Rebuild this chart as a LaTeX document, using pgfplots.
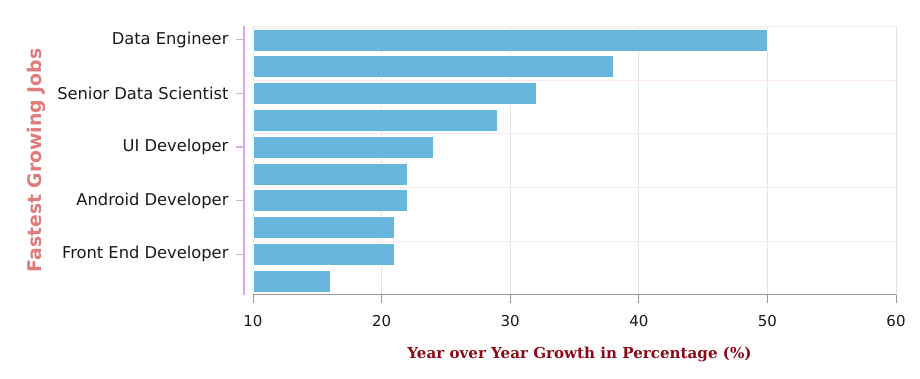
\documentclass[border=0pt]{standalone}
\usepackage{pgfplots}
\pgfplotsset{compat=1.18}
\usepackage{fontspec}
\setmainfont{DejaVu Sans}
\newfontfamily\serifb{DejaVu Serif}
\definecolor{barblue}{HTML}{67B7DC}
\definecolor{ytitle}{HTML}{E07B7B}
\definecolor{xtitle}{HTML}{8B0A1A}
\definecolor{yaxis}{HTML}{DDA6EE}
\definecolor{gridv}{HTML}{E4E4E4}
\definecolor{gridh}{HTML}{FBE8EE}
\begin{document}
\begin{tikzpicture}
\begin{axis}[
  scale only axis, width=643pt, height=268pt,
  xmin=10, xmax=60, ymin=-0.5, ymax=9.5,
  axis x line*=bottom, axis y line*=left,
  axis y line shift=9pt,
  x axis line style={draw=black!40, line width=0.8pt, -},
  y axis line style={draw=yaxis, line width=1.2pt, -},
  xtick={10,20,30,40,50,60},
  ytick={9,7,5,3,1},
  yticklabels={Data Engineer,Senior Data Scientist,UI Developer,Android Developer,Front End Developer},
  minor ytick={1.5,3.5,5.5,7.5,9.5},
  xmajorgrids, yminorgrids,
  major x grid style={color=gridv, line width=0.8pt},
  minor y grid style={color=gridh, line width=0.8pt},
  tick align=outside,
  major tick length=8pt, minor tick length=0pt,
  x tick style={draw=black!40, line width=0.8pt},
  y tick style={draw=yaxis, line width=1.2pt},
  /pgf/number format/assume math mode=true,
  xticklabel style={font=\fontsize{15}{17}\selectfont, color=black!90, yshift=-9pt},
  yticklabel style={font=\fontsize{16.3}{18}\selectfont, color=black!90, xshift=-4pt},
  xlabel={Year over Year Growth in Percentage (\%)},
  ylabel={Fastest Growing Jobs},
  xlabel style={at={(axis description cs:0.5,0)}, anchor=center, yshift=-60pt, xshift=5pt,
    font=\serifb\bfseries\fontsize{15.1}{17}\selectfont, color=xtitle},
  ylabel style={at={(axis description cs:-0.3375,0.5)}, anchor=center,
    font=\bfseries\fontsize{18.8}{21}\selectfont, color=ytitle},
  xbar, bar width=22pt,
  clip=true,
]
\addplot[fill=barblue, draw=white, line width=0.6pt] coordinates {
  (50,9) (38,8) (32,7) (29,6) (24,5) (22,4) (22,3) (21,2) (21,1) (16,0)
};
\end{axis}
\pgfresetboundingbox
\path (current axis.south west) ++(-253pt,-83.5pt) rectangle ++(920pt,378pt);
\end{tikzpicture}
\end{document}
